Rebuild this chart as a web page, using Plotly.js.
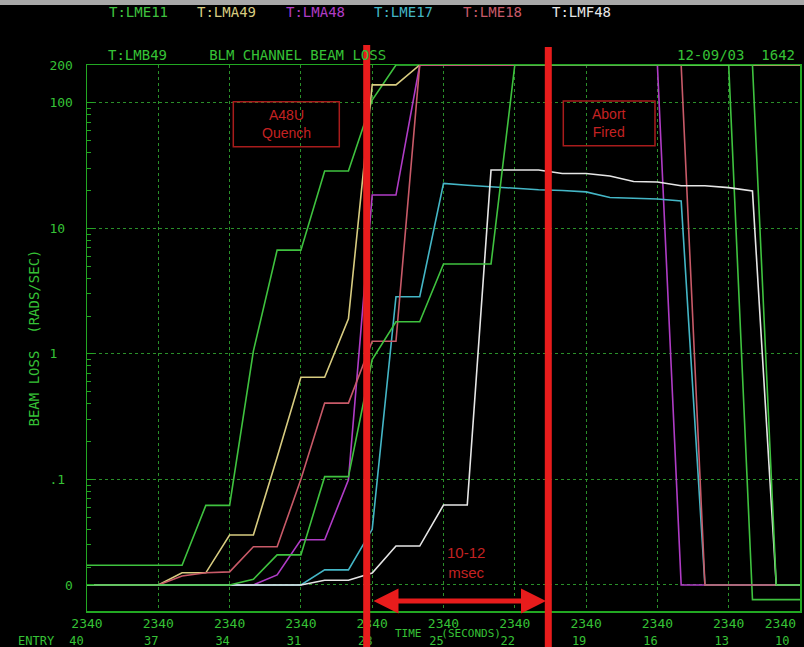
<!DOCTYPE html>
<html><head><meta charset="utf-8">
<script src="https://cdn.plot.ly/plotly-3.0.1.min.js"></script>
<style>html,body{margin:0;padding:0;background:#000;}#chart{width:804px;height:647px;}</style>
</head><body><div id="chart"></div>
<script>
// ---- data ----
const FLOOR = 0.0144; // the "0" floor level of the log display
const F = FLOOR;
const entries = [40,39,38,37,36,35,34,33,32,31,30,29,28,27,26,25,24,23,22,21,20,19,18,17,16,15,14,13,12,11,10];
const tickEntries = [40,37,34,31,28,25,22,19,16,13,10];
const timeLabels = ['2340','2340','2340','2340','2340','2340','2340','2340','2340','2340','2340'];
const entryLabels = ['40','37','34','31','28','25','22','19','16','13','10'];
const yTickVals = [FLOOR, 0.1, 1, 10, 100, 200];
const yTickText = ['0', '.1', '1', '10', '100', '200'];

const seriesNames = ['T:LME11','T:LMA49','T:LMA48','T:LME17','T:LME18','T:LMF48','T:LMB49'];
const seriesColors = ['#3fc23f','#d8cc80','#b03cc6','#44b6c6','#c85a68','#e6e6e6','#3fc23f'];

const lme11 = [0.0207,0.0207,0.0207,0.0207,0.0207,0.062,0.062,1.05,6.7,6.7,28.6,28.6,105,
  200,200,200,200,200,200,200,200,200,200,200,200,200,200,200,0.011,0.011,0.011];
const lma49 = [F,F,F,F,0.018,0.018,0.036,0.036,0.15,0.65,0.65,1.9,139,139,
  200,200,200,200,200,200,200,200,200,200,200,200,200,200,200,200,200];
const lma48 = [F,F,F,F,F,F,F,F,0.0173,0.033,0.033,0.099,18.4,18.4,
  200,200,200,200,200,200,200,200,200,200,200,F,F,F,F,F,F];
const lme17 = [F,F,F,F,F,F,F,F,F,F,0.019,0.019,0.04,2.85,2.85,22.8,22,21.4,20.8,20.3,20,19.5,17.6,17.3,17.1,16.5,F,F,F,F,F];
const lme18 = [F,F,F,F,0.017,0.018,0.0183,0.029,0.029,0.1,0.405,0.405,1.26,1.26,
  200,200,200,200,200,200,200,200,200,200,200,200,F,F,F,F,F];
const lmf48 = [F,F,F,F,F,F,F,F,F,F,0.0157,0.0157,0.0179,0.0294,0.0294,0.0624,0.0624,29.1,29.1,29.1,27.3,27.3,26.1,23.6,23.4,21.8,21.8,21.1,19.8,F,F];
const lmb49 = [F,F,F,F,F,F,F,0.016,0.025,0.025,0.105,0.105,0.9,1.8,1.8,5.2,5.2,5.2,
  200,200,200,200,200,200,200,200,200,200,200,F,F];
const seriesValues = [lme11, lma49, lma48, lme17, lme18, lmf48, lmb49];

// ---- styling ----
const MONO = 'DejaVu Sans Mono, monospace';
const GREEN_TXT = '#36c236';
const GREEN_LINE = '#22a822';
const GREEN_GRID = '#2a8f2a';
const RED = '#e81c1c';
const DARKRED = '#c42222';
const nb = n => '\u00a0'.repeat(n);

const traces = seriesValues.map((vals, i) => ({
  type: 'scatter', mode: 'lines', name: seriesNames[i],
  x: entries, y: vals,
  xaxis: i === 6 ? 'x2' : 'x',
  line: {color: seriesColors[i], width: 1.6},
  showlegend: false, hoverinfo: 'name+y'
}));

// tick text padding so labels sit like on the CRT display
const timeText = timeLabels.map((t, i) => i === timeLabels.length - 1 ? t + nb(5) : t);
const entryText = entryLabels.map((t, i) => i === 0 ? t + nb(1) : (i === entryLabels.length - 1 ? t + nb(3) : t));
const yText = yTickText.map(t => t === '10' ? t + nb(1) : t === '.1' ? t + nb(1) : t === '1' ? t + nb(2) : t);

const minorVals = [];
[0.01, 0.1, 1, 10, 100].forEach(d => { for (let m = 2; m <= 9; m++) { const v = m * d; if (v > 0.009 && v < 200) minorVals.push(v); } });

// pixel -> paper helpers (plot area: x 87..800, y 65..611)
const PX = px => (px - 87) / 713;
const PY = py => (611 - py) / 546;

const annotations = [];
// legend row
seriesNames.slice(0, 6).forEach((n, i) => {
  annotations.push({xref: 'paper', yref: 'paper', x: PX(138 + i * 88.6), y: PY(12), text: n, showarrow: false,
    xanchor: 'center', yanchor: 'middle', font: {family: MONO, size: 14, color: seriesColors[i]}});
});
annotations.push({xref: 'paper', yref: 'paper', x: PX(797), y: PY(55), text: '12-09/03' + nb(2) + '1642', showarrow: false,
  xanchor: 'right', yanchor: 'middle', font: {family: MONO, size: 14, color: GREEN_TXT}});
annotations.push({xref: 'paper', yref: 'paper', x: PX(36), y: PY(641), text: 'ENTRY', showarrow: false,
  xanchor: 'center', yanchor: 'middle', font: {family: MONO, size: 12, color: GREEN_TXT}});
annotations.push({xref: 'paper', yref: 'paper', x: PX(448), y: PY(633), text: 'TIME' + nb(3) + '(SECONDS)', showarrow: false,
  xanchor: 'center', yanchor: 'middle', font: {family: MONO, size: 11, color: GREEN_TXT}});
annotations.push({xref: 'paper', yref: 'paper', x: PX(286), y: PY(124), text: 'A48U<br>Quench', showarrow: false,
  xanchor: 'center', yanchor: 'middle', font: {family: 'Liberation Sans, Arial, sans-serif', size: 14, color: DARKRED}});
annotations.push({xref: 'paper', yref: 'paper', x: PX(609), y: PY(123), text: 'Abort<br>Fired', showarrow: false,
  xanchor: 'center', yanchor: 'middle', font: {family: 'Liberation Sans, Arial, sans-serif', size: 14, color: DARKRED}});
annotations.push({xref: 'paper', yref: 'paper', x: PX(466), y: PY(562), text: '10-12<br>msec', showarrow: false,
  xanchor: 'center', yanchor: 'middle', font: {family: 'Liberation Sans, Arial, sans-serif', size: 15, color: DARKRED}});
annotations.push({xref: 'paper', yref: 'paper', x: PX(546), y: PY(601), text: '', showarrow: true,
  axref: 'pixel', ayref: 'pixel', ax: -174, ay: 0, arrowside: 'end+start', arrowhead: 2, startarrowhead: 2,
  arrowsize: 1, startarrowsize: 1, arrowwidth: 5, arrowcolor: RED, standoff: 0, startstandoff: 0});

const shapes = [
  {type: 'rect', xref: 'paper', yref: 'paper', x0: PX(0), x1: PX(804), y0: PY(5), y1: PY(0), fillcolor: '#a8a8a8', line: {width: 0}, layer: 'above'},
  {type: 'line', xref: 'paper', yref: 'paper', x0: PX(366.7), x1: PX(366.7), y0: PY(647), y1: PY(45), line: {color: RED, width: 7}, layer: 'above'},
  {type: 'line', xref: 'paper', yref: 'paper', x0: PX(548.3), x1: PX(548.3), y0: PY(647), y1: PY(47), line: {color: RED, width: 7}, layer: 'above'},
  {type: 'rect', xref: 'paper', yref: 'paper', x0: PX(233.3), x1: PX(339.3), y0: PY(146.7), y1: PY(101.7), line: {color: '#a81c1c', width: 1.5}, layer: 'above'},
  {type: 'rect', xref: 'paper', yref: 'paper', x0: PX(563.3), x1: PX(655), y0: PY(145.7), y1: PY(101), line: {color: '#a81c1c', width: 1.5}, layer: 'above'}
];

const layout = {
  width: 804, height: 647,
  margin: {l: 87, r: 4, t: 65, b: 36},
  paper_bgcolor: '#000', plot_bgcolor: '#000',
  showlegend: false,
  title: {text: 'T:LMB49' + nb(5) + 'BLM CHANNEL BEAM LOSS', xref: 'container', yref: 'container',
    x: 108 / 804, xanchor: 'left', y: 1 - 55 / 647, yanchor: 'middle',
    font: {family: MONO, size: 14, color: GREEN_TXT}},
  xaxis: {range: [40, 10], autorange: false, tickmode: 'array', tickvals: tickEntries, ticktext: timeText,
    showgrid: true, gridcolor: GREEN_GRID, griddash: 'dot', gridwidth: 1,
    showline: true, mirror: true, linecolor: GREEN_LINE, linewidth: 1.5, ticks: '', zeroline: false,
    ticklabeloverflow: 'allow',
    tickfont: {family: MONO, size: 13, color: GREEN_TXT}, automargin: false},
  xaxis2: {overlaying: 'x', anchor: 'y', side: 'bottom', range: [40, 10], autorange: false,
    tickmode: 'array', tickvals: tickEntries, ticktext: entryText,
    showgrid: false, showline: false, ticks: '', zeroline: false,
    ticklabelstandoff: 21, ticklabelshift: 7, ticklabeloverflow: 'allow',
    tickfont: {family: MONO, size: 12, color: GREEN_TXT}, automargin: false},
  yaxis: {type: 'log', range: [-2.049, 2.301], autorange: false, tickmode: 'array', tickvals: yTickVals, ticktext: yText,
    showgrid: true, gridcolor: GREEN_GRID, griddash: 'dot', gridwidth: 1,
    showline: true, mirror: true, linecolor: GREEN_LINE, linewidth: 1.5,
    ticks: 'inside', ticklen: 7, tickcolor: GREEN_LINE, tickwidth: 1,
    minor: {tickmode: 'array', tickvals: minorVals, ticks: 'inside', ticklen: 4, tickcolor: GREEN_LINE, showgrid: false},
    ticklabelstandoff: 10, zeroline: false,
    tickfont: {family: MONO, size: 13, color: GREEN_TXT}, automargin: false,
    title: {text: 'BEAM LOSS  (RADS/SEC)', standoff: 6, font: {family: MONO, size: 14, color: GREEN_TXT}}},
  annotations: annotations,
  shapes: shapes
};

Plotly.newPlot('chart', traces, layout, {staticPlot: true, displayModeBar: false});
</script>
</body></html>
